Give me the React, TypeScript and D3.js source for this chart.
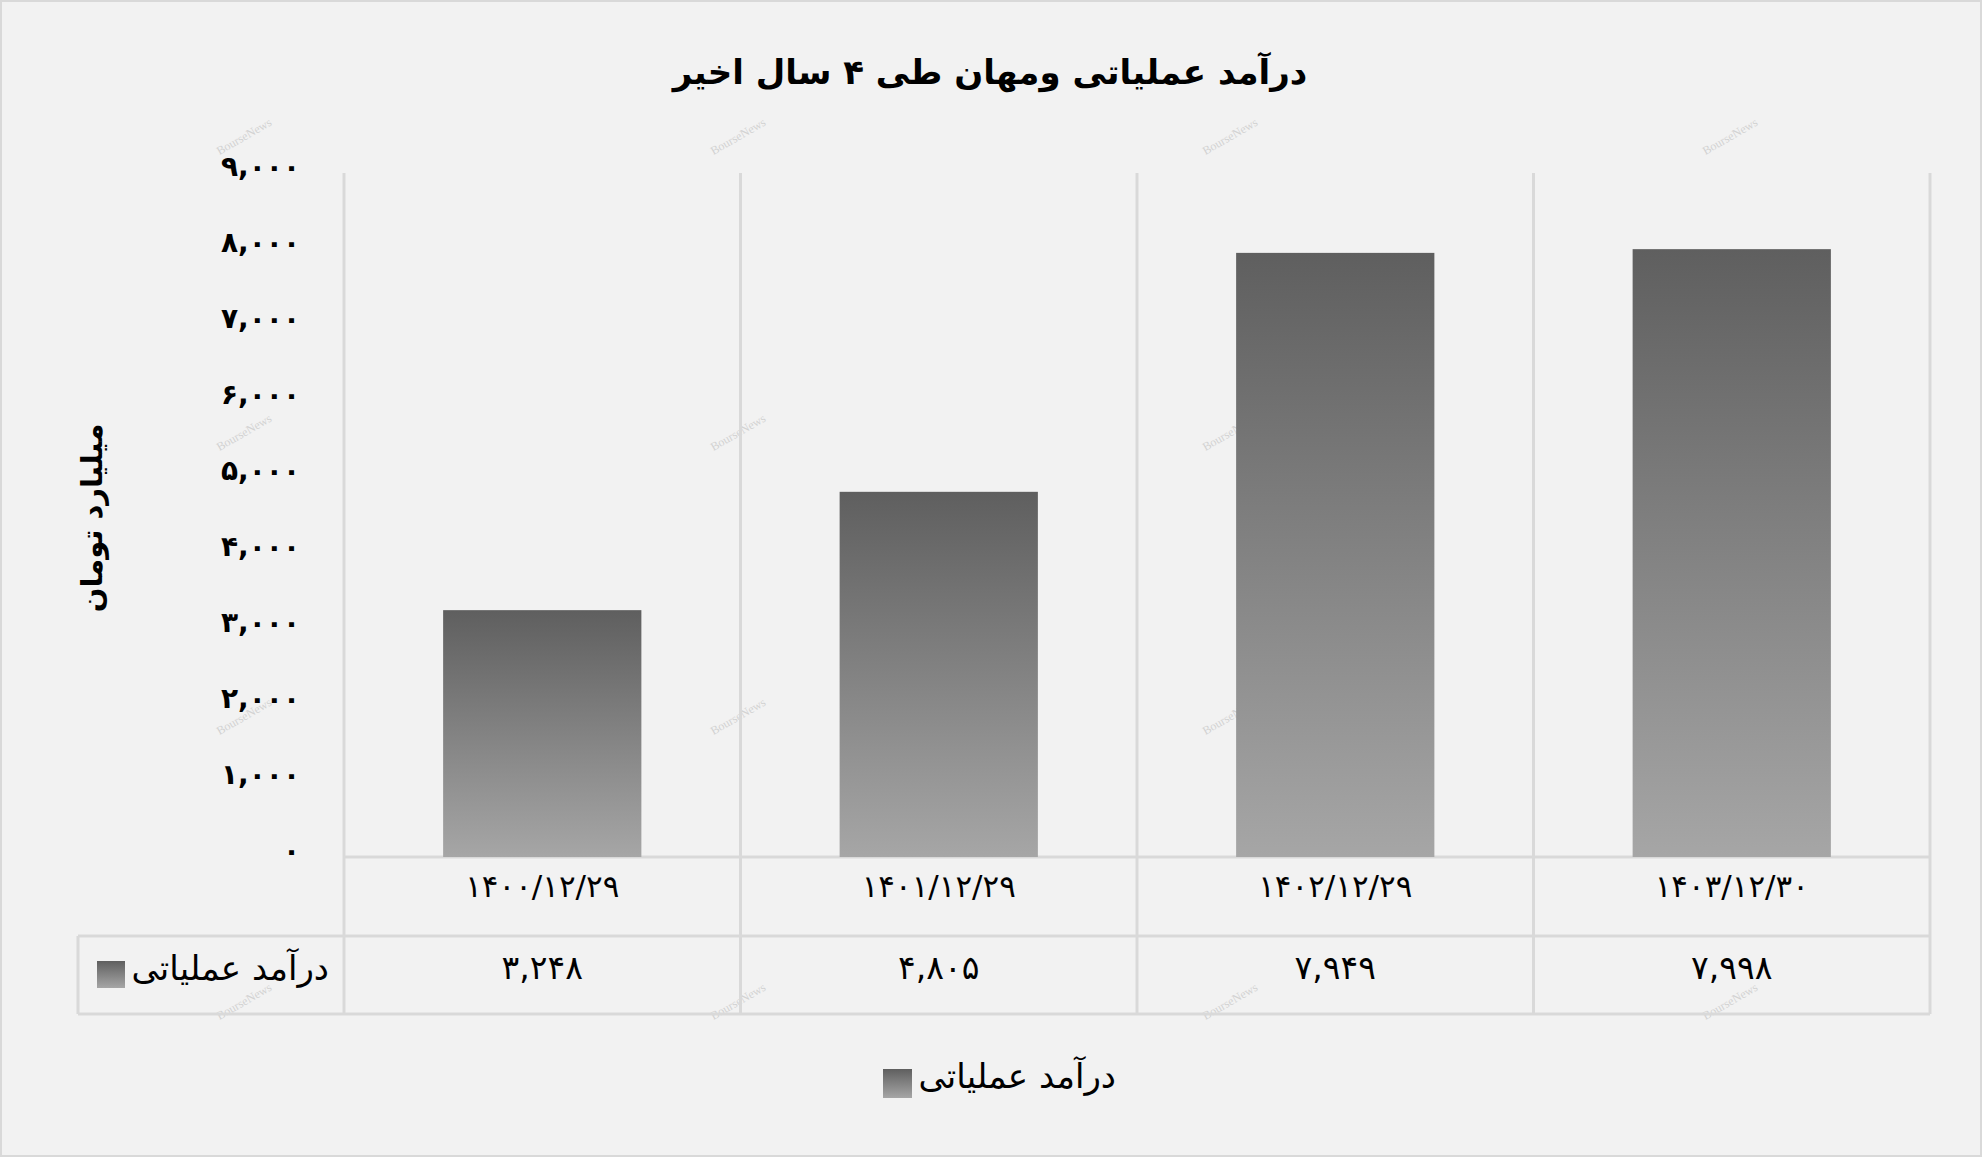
import React from "react";
import * as d3 from "d3";

const categories = ["1400/12/29", "1401/12/29", "1402/12/29", "1403/12/30"];
const revenue = [3248, 4805, 7949, 7998];
const yTicks = [0, 1000, 2000, 3000, 4000, 5000, 6000, 7000, 8000, 9000];
const seriesName = "درآمد عملیاتی";
const titleText = "درآمد عملیاتی ومهان طی ۴ سال اخیر";
const yAxisTitle = "میلیارد تومان";
const watermark = "BourseNews";

const W = 1982;
const H = 1157;
const FONT = "'DejaVu Sans', sans-serif";

const toFa = (s: string) => s.replace(/[0-9]/g, (d) => "۰۱۲۳۴۵۶۷۸۹"[+d]);
const fmt = d3.format(",");

export default function App() {
  const plotLeft = 344;
  const plotRight = 1930;
  const plotTop = 173;
  const baseY = 857;
  const row1Bottom = 936;
  const row2Bottom = 1014;
  const tableLeft = 78;

  const x = d3.scaleBand<string>().domain(categories).range([plotLeft, plotRight]).paddingInner(0).paddingOuter(0);
  const y = d3.scaleLinear().domain([0, 9000]).range([baseY, plotTop]);
  const barW = x.bandwidth() * 0.5;
  const grid = "#d9d9d9";

  const boundaries = categories.map((c) => x(c) as number).concat([plotRight]);

  const wmX = [246, 740, 1232, 1732];
  const wmY = [140, 436, 720, 1005];

  return (
    <svg width={W} height={H} style={{ position: "absolute", left: 0, top: 0, display: "block" }} fontFamily={FONT}>
      <defs>
        <linearGradient id="barGrad" x1="0" y1="0" x2="0" y2="1">
          <stop offset="0" stopColor="#5f5f5f" />
          <stop offset="1" stopColor="#a6a6a6" />
        </linearGradient>
      </defs>
      <rect x={0} y={0} width={W} height={H} fill="#f2f2f2" />
      <rect x={1} y={1} width={W - 2} height={H - 2} fill="none" stroke="#d9d9d9" strokeWidth={2} />

      {/* watermarks */}
      {wmX.map((wx) =>
        wmY.map((wy) => (
          <text key={`${wx}-${wy}`} x={wx} y={wy} fontSize={12} fontFamily="'Liberation Serif', serif" fill="#d2d2d2" textAnchor="middle" transform={`rotate(-30 ${wx} ${wy})`}>
            {watermark}
          </text>
        ))
      )}

      {/* title */}
      <text x={990} y={72} fontSize={34} fontWeight="bold" textAnchor="middle" dominantBaseline="central" fill="#000">
        {titleText}
      </text>

      {/* y axis title */}
      <text x={0} y={0} transform={`translate(92 518) rotate(-90)`} fontSize={29} fontWeight="bold" textAnchor="middle" dominantBaseline="central" fill="#000">
        {yAxisTitle}
      </text>

      {/* y tick labels */}
      {yTicks.map((t) => (
        <text key={t} x={300} y={y(t) - 7} fontSize={28} fontWeight="bold" textAnchor="end" dominantBaseline="central" fill="#000" direction="ltr">
          {toFa(fmt(t))}
        </text>
      ))}

      {/* vertical grid / table lines */}
      {boundaries.map((bx, i) => (
        <line key={i} x1={bx} x2={bx} y1={plotTop} y2={row2Bottom} stroke={grid} strokeWidth={3} />
      ))}
      <line x1={tableLeft} x2={tableLeft} y1={row1Bottom} y2={row2Bottom} stroke={grid} strokeWidth={3} />
      <line x1={plotLeft} x2={plotRight} y1={baseY} y2={baseY} stroke={grid} strokeWidth={3} />
      <line x1={tableLeft} x2={plotRight} y1={row1Bottom} y2={row1Bottom} stroke={grid} strokeWidth={3} />
      <line x1={tableLeft} x2={plotRight} y1={row2Bottom} y2={row2Bottom} stroke={grid} strokeWidth={3} />

      {/* bars */}
      {categories.map((c, i) => {
        const cx = (x(c) as number) + x.bandwidth() / 2;
        return (
          <rect key={c} x={cx - barW / 2} y={y(revenue[i])} width={barW} height={baseY - y(revenue[i])} fill="url(#barGrad)" />
        );
      })}

      {/* category labels */}
      {categories.map((c) => (
        <text key={c} x={(x(c) as number) + x.bandwidth() / 2} y={886} fontSize={31} textAnchor="middle" dominantBaseline="central" fill="#000" direction="ltr">
          {toFa(c)}
        </text>
      ))}

      {/* values row */}
      {categories.map((c, i) => (
        <text key={c} x={(x(c) as number) + x.bandwidth() / 2} y={967} fontSize={33} textAnchor="middle" dominantBaseline="central" fill="#000" direction="ltr">
          {toFa(fmt(revenue[i]))}
        </text>
      ))}

      {/* table legend */}
      <rect x={97} y={961} width={28} height={27} fill="url(#barGrad)" />
      <text x={329} y={968} fontSize={34} textAnchor="end" dominantBaseline="central" fill="#000">
        {seriesName}
      </text>

      {/* bottom legend */}
      <rect x={883} y={1069} width={29} height={29} fill="url(#barGrad)" />
      <text x={1116} y={1076} fontSize={34} textAnchor="end" dominantBaseline="central" fill="#000">
        {seriesName}
      </text>
    </svg>
  );
}
